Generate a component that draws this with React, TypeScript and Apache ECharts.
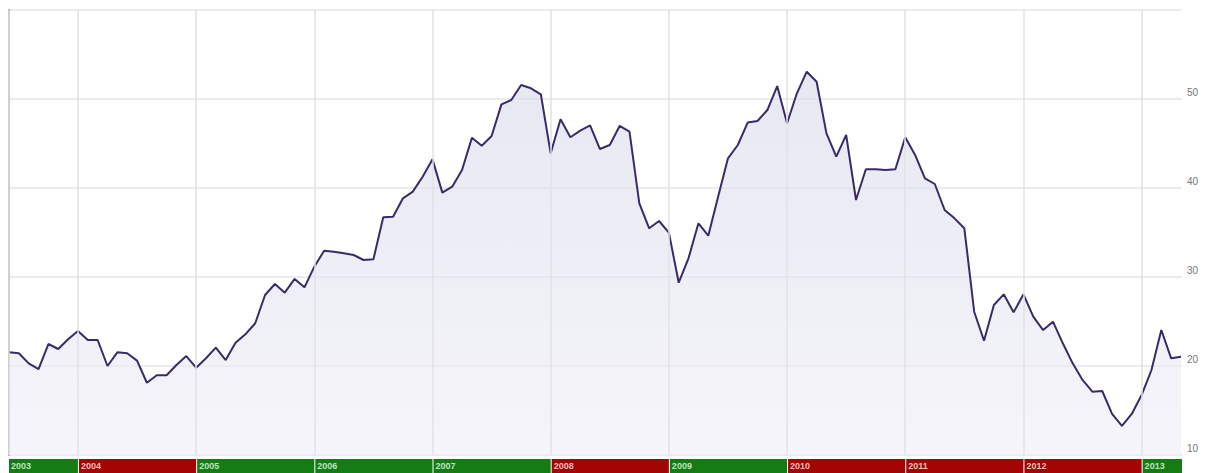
import React, { useEffect, useRef } from "react";
import * as echarts from "echarts";

// Monthly closing values, June 2003 .. May 2013
const values: number[] = [
  21.54, 21.43, 20.3, 19.66, 22.47, 21.91, 23.0, 23.93, 22.92, 22.92, 20.0, 21.54,
  21.43, 20.6, 18.12, 18.96, 18.96, 20.11, 21.12, 19.81, 20.87, 22.06, 20.67, 22.62,
  23.56, 24.8, 27.98, 29.21, 28.24, 29.78, 28.84, 31.16, 32.96, 32.84, 32.66, 32.47,
  31.91, 31.99, 36.71, 36.78, 38.84, 39.59, 41.27, 43.22, 39.48, 40.15, 42.02, 45.65,
  44.75, 45.84, 49.4, 49.89, 51.57, 51.2, 50.53, 43.9, 47.72, 45.7, 46.45, 47.04,
  44.38, 44.83, 46.97, 46.33, 38.28, 35.47, 36.29, 34.98, 29.36, 32.13, 36.03, 34.64,
  39.03, 43.33, 44.83, 47.35, 47.53, 48.76, 51.46, 47.27, 50.64, 53.07, 51.94, 46.14,
  43.52, 45.96, 38.65, 42.1, 42.1, 42.02, 42.1, 45.7, 43.71, 41.09, 40.45, 37.53,
  36.59, 35.47, 26.1, 22.84, 26.85, 28.05, 26.03, 28.05, 25.54, 24.04, 24.98, 22.55,
  20.3, 18.43, 17.12, 17.19, 14.61, 13.26, 14.61, 16.74, 19.55, 24.04, 20.86, 21.04,
];

const firstMonth = 6; // June
const firstYear = 2003;
const yearLabels: string[] = ["2003", "2004", "2005", "2006", "2007", "2008", "2009", "2010", "2011", "2012", "2013"];
const yearUp: boolean[] = [true, false, true, true, true, false, true, false, false, false, true];
const yTicks: number[] = [10, 20, 30, 40, 50, 60];

export default function App() {
  const ref = useRef<HTMLDivElement>(null);
  useEffect(() => {
    if (!ref.current) return;
    const chart = echarts.init(ref.current, undefined, { renderer: "svg" });
    const n = values.length;
    const xMax = n - 1 + 0.1;
    const yearStartIdx = (y: number) => (y - firstYear) * 12 - (firstMonth - 1);
    const lineData = values.map((v, i) => [i, v]);
    const yearBoundaries = yearLabels.map((y) => yearStartIdx(Number(y))).filter((i) => i > 0);
    const stripData = yearLabels.map((y, k) => [
      yearStartIdx(Number(y)),
      yearStartIdx(Number(y)) + 12,
      yearUp[k] ? 1 : 0,
      y,
    ]);
    chart.setOption({
      animation: false,
      backgroundColor: "#ffffff",
      grid: [
        { left: 9, right: 27, top: 10, bottom: 18 },
        { left: 9, right: 27, top: 459, height: 14 },
      ],
      xAxis: [
        {
          type: "value",
          gridIndex: 0,
          min: 0,
          max: xMax,
          axisLine: { show: false },
          axisTick: { show: false },
          axisLabel: { show: false },
          splitLine: { show: false },
        },
        {
          type: "value",
          gridIndex: 1,
          min: 0,
          max: xMax,
          show: false,
        },
      ],
      yAxis: [
        {
          type: "value",
          gridIndex: 0,
          position: "right",
          min: yTicks[0],
          max: yTicks[yTicks.length - 1],
          interval: 10,
          axisLine: { show: true, lineStyle: { color: "#9c9c9c", width: 2 } },
          axisTick: { show: false },
          axisLabel: {
            color: "#777777",
            fontSize: 10,
            fontFamily: "Liberation Sans, Arial, sans-serif",
            margin: 5,
            verticalAlign: "bottom",
            padding: [0, 0, 2, 0],
            formatter: (v: number) => (v >= 60 ? "" : String(v)),
          },
          splitLine: { show: true, lineStyle: { color: "#e6e6e6", width: 1.5 } },
        },
        { type: "value", gridIndex: 1, min: 0, max: 1, show: false },
      ],
      series: [
        {
          type: "line",
          xAxisIndex: 0,
          yAxisIndex: 0,
          data: lineData,
          showSymbol: false,
          symbol: "none",
          lineStyle: { color: "#3b2a68", width: 2 },
          areaStyle: {
            color: new echarts.graphic.LinearGradient(0, 0, 0, 1, [
              { offset: 0, color: "rgba(214,217,232,0.85)" },
              { offset: 1, color: "rgba(240,239,248,0.9)" },
            ]),
            origin: "start",
          },
          z: 3,
          markLine: {
            silent: true,
            symbol: "none",
            label: { show: false },
            lineStyle: { color: "#e2e2e6", width: 1.5, type: "solid" },
            data: [{ xAxis: 0 }, ...yearBoundaries.map((i) => ({ xAxis: i }))],
          },
        },
        {
          type: "custom",
          xAxisIndex: 1,
          yAxisIndex: 1,
          data: stripData,
          renderItem: (params: any, api: any) => {
            const s = Math.max(api.value(0), 0);
            const e = Math.min(api.value(1), xMax);
            const p0 = api.coord([s, 1]);
            const p1 = api.coord([e, 0]);
            const up = api.value(2) === 1;
            const label = yearLabels[params.dataIndex];
            return {
              type: "group",
              children: [
                {
                  type: "rect",
                  shape: { x: p0[0] + (s > 0 ? 1 : 0), y: p0[1], width: p1[0] - p0[0] - (s > 0 ? 1 : 0), height: p1[1] - p0[1] },
                  style: { fill: up ? "#157c15" : "#a30404" },
                },
                {
                  type: "text",
                  x: p0[0] + (s > 0 ? 3 : 2),
                  y: p0[1] + 7,
                  style: {
                    text: label,
                    fill: up ? "rgba(215,240,215,0.9)" : "rgba(250,215,215,0.9)",
                    font: "bold 9px Liberation Sans, Arial, sans-serif",
                    verticalAlign: "middle",
                    align: "left",
                  },
                },
              ],
            };
          },
        },
      ],
    });
    return () => chart.dispose();
  }, []);
  return <div ref={ref} style={{ position: "absolute", left: 0, top: 0, width: 1209, height: 473 }} />;
}
